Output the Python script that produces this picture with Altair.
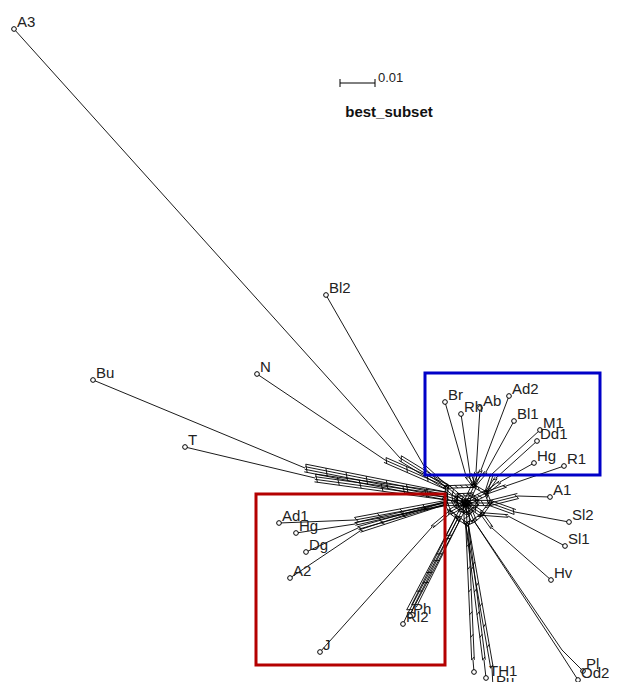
import math
import altair as alt
import pandas as pd

# ---------------- data (image pixel coordinates) ----------------
leaf_names = ["A3", "Bl2", "N", "Bu", "T",
              "Ad1", "Hg", "Dg", "A2", "J", "Ph", "Rl2",
              "Br", "Rh", "Ab", "Ad2", "Bl1", "M1", "Dd1", "Hg", "R1",
              "A1", "Sl2", "Sl1", "Hv",
              "Pl", "Od2", "", "TH1", "Pu"]
leaf_x = [14, 326, 257, 93, 185,
          279, 296, 306, 290, 320, 410, 403,
          445, 461, 480, 509, 514, 540, 537, 534, 564,
          550, 569, 565, 551,
          583, 578, 474, 486, 493]
leaf_y = [29, 295, 374, 380, 447,
          523, 533, 552, 578, 652, 616, 624,
          402, 414, 408, 396, 421, 430, 441, 463, 466,
          497, 522, 546, 580,
          671, 680, 672, 678, 688]
base_x = [400, 424, 385, 305, 315,
          355, 355, 358, 360, 432, 414, 409,
          466, 470, 476, 481, 486, 492, 496, 500, 506,
          518, 515, 508, 492,
          562, 560, 473, 484, 492]
base_y = [458, 466, 460, 468, 478,
          520, 524, 528, 531, 527, 606, 611,
          476, 474, 472, 470, 472, 474, 478, 482, 486,
          496, 512, 516, 528,
          650, 652, 660, 660, 668]
leaf_hub = ["L1", "L1", "L1", "L2", "L2",
            "RB", "RB", "RB", "RB", "J", "P", "P",
            "TR1", "TR1", "TR1", "TR1", "TR1", "TR2", "TR2", "TR2", "TR2",
            "R", "R", "HV", "HV",
            "PL", "PL", "B", "B", "B"]
leaf_splits = [3, 2, 3, 4, 4,
               3, 2, 2, 2, 2, 3, 3,
               2, 2, 2, 2, 2, 2, 2, 2, 2,
               3, 3, 2, 2,
               1, 1, 2, 2, 2]

hub_names = ["L1", "L2", "RB", "J", "P", "B", "PL", "HV", "R", "TR2", "TR1"]
hub_x = [447, 446, 446, 450, 458, 467, 474, 482, 490, 486, 474]
hub_y = [487, 496, 503, 512, 518, 524, 521, 514, 503, 493, 486]
centre = (466, 503)

red_box = [256, 494, 445, 665]
blue_box = [425, 373, 600, 475]
scalebar = [340, 375, 83]
scalebar_label = "0.01"
title_text = "best_subset"
title_pos = [389, 117]

# ---------------- geometry helpers ----------------
def band(x0, y0, x1, y1, k, gap=2.6, step=20, skew=3.0):
    dx, dy = x1 - x0, y1 - y0
    L = math.hypot(dx, dy) or 1.0
    ux, uy = dx / L, dy / L
    px, py = -uy, ux
    offs = [(i - (k - 1) / 2) * gap for i in range(k)]
    segs = []
    for o in offs:
        segs.append((x0 + px * o, y0 + py * o, x1 + px * o, y1 + py * o))
    if k > 1:
        n = max(1, int(L // step))
        for j in range(n + 1):
            t = j / n
            cx, cy = x0 + dx * t, y0 + dy * t
            s = skew if j < n else -skew
            segs.append((cx + px * offs[0], cy + py * offs[0],
                         cx + px * offs[-1] + ux * s, cy + py * offs[-1] + uy * s))
    return segs

hub = dict(zip(hub_names, zip(hub_x, hub_y)))
inner = {h: (hub[h][0] * 0.5 + centre[0] * 0.5, hub[h][1] * 0.5 + centre[1] * 0.5)
         for h in hub_names}
segs = []
for i in range(len(leaf_names)):
    lx, ly, bx, by = leaf_x[i], leaf_y[i], base_x[i], base_y[i]
    hx, hy = hub[leaf_hub[i]]
    segs.append((lx, ly, bx, by))
    segs += band(bx, by, hx, hy, leaf_splits[i])
ring = hub_names[1:] + hub_names[:1]
for a, b in zip(hub_names, ring):
    segs += band(hub[a][0], hub[a][1], hub[b][0], hub[b][1], 2, step=5)
    segs += band(inner[a][0], inner[a][1], inner[b][0], inner[b][1], 2, step=4)
for h in hub_names:
    segs += band(hub[h][0], hub[h][1], centre[0], centre[1], 3, step=5)

seg_df = pd.DataFrame(segs, columns=["x", "y", "x2", "y2"])
leaf_df = pd.DataFrame({"name": leaf_names, "x": leaf_x, "y": leaf_y})

box_df = pd.DataFrame({
    "x": [red_box[0], blue_box[0]], "y": [red_box[1], blue_box[1]],
    "x2": [red_box[2], blue_box[2]], "y2": [red_box[3], blue_box[3]],
    "c": ["#b40000", "#0000c8"]})

sb_df = pd.DataFrame({
    "x": [scalebar[0], scalebar[0], scalebar[1]],
    "x2": [scalebar[1], scalebar[0], scalebar[1]],
    "y": [scalebar[2], scalebar[2] - 4, scalebar[2] - 4],
    "y2": [scalebar[2], scalebar[2] + 4, scalebar[2] + 4]})
txt_df = pd.DataFrame({"t": [scalebar_label], "x": [scalebar[1] + 3], "y": [scalebar[2] - 1]})
ttl_df = pd.DataFrame({"t": [title_text], "x": [title_pos[0]], "y": [title_pos[1]]})

# ---------------- chart ----------------
xs = alt.Scale(domain=[8, 609], nice=False, zero=False)
ys = alt.Scale(domain=[8, 682], nice=False, zero=False, reverse=True)
X = lambda f: alt.X(f, type="quantitative", scale=xs, axis=None)
Y = lambda f: alt.Y(f, type="quantitative", scale=ys, axis=None)

edges = alt.Chart(seg_df).mark_rule(color="black", strokeWidth=0.9).encode(
    x=X("x"), y=Y("y"), x2="x2", y2="y2")

boxes = alt.Chart(box_df).mark_rect(filled=False, strokeWidth=3).encode(
    x=X("x"), y=Y("y"), x2="x2", y2="y2",
    stroke=alt.Stroke("c:N", scale=None))

nodes = alt.Chart(leaf_df).mark_point(
    shape="circle", size=22, filled=True, fill="white", stroke="black",
    strokeWidth=1, opacity=1).encode(x=X("x"), y=Y("y"))

labels = alt.Chart(leaf_df).mark_text(
    align="left", baseline="alphabetic", dx=3, dy=-2, fontSize=15,
    font="Liberation Sans", color="#222222").encode(
    x=X("x"), y=Y("y"), text="name:N")

sbar = alt.Chart(sb_df).mark_rule(color="black", strokeWidth=1).encode(
    x=X("x"), y=Y("y"), x2="x2", y2="y2")
sbtxt = alt.Chart(txt_df).mark_text(
    align="left", baseline="alphabetic", fontSize=13, font="Liberation Sans",
    color="#222222").encode(x=X("x"), y=Y("y"), text="t:N")
ttl = alt.Chart(ttl_df).mark_text(
    align="center", baseline="alphabetic", fontSize=15, fontWeight="bold",
    font="Liberation Sans", color="#111111").encode(x=X("x"), y=Y("y"), text="t:N")

chart = alt.layer(edges, boxes, nodes, labels, sbar, sbtxt, ttl).properties(
    width=601, height=674, padding=0,
    autosize=alt.AutoSizeParams(type="none"),
    background="white"
).configure_view(stroke=None)

chart.save("out.html", embed_options={"renderer": "svg", "actions": False})
